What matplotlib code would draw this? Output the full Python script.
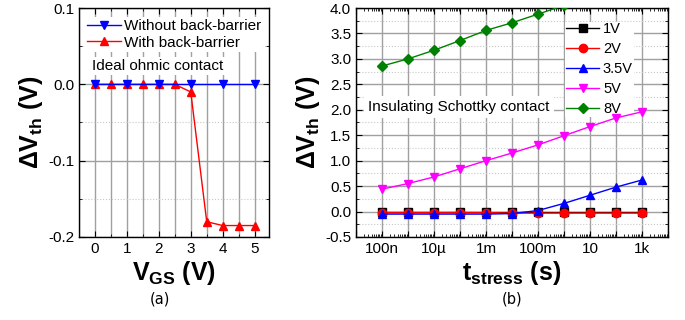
import numpy as np
import matplotlib.pyplot as plt
from matplotlib.ticker import MultipleLocator, FixedLocator, NullFormatter

plt.rcParams['font.family'] = ['Liberation Sans', 'DejaVu Sans']
plt.rcParams['mathtext.fontset'] = 'custom'
plt.rcParams['mathtext.rm'] = 'Liberation Sans'
plt.rcParams['mathtext.bf'] = 'Liberation Sans:bold'
plt.rcParams['mathtext.it'] = 'Liberation Sans:italic'

# (a) threshold shift vs gate bias
vgs = [0, 0.5, 1, 1.5, 2, 2.5, 3, 3.5, 4, 4.5, 5]
vgs_no_bb = [0, 1, 2, 3, 4, 5]
dvth_no_bb = [0, 0, 0, 0, 0, 0]
dvth_bb = [0, 0, 0, 0, 0, 0, -0.01, -0.18, -0.185, -0.185, -0.185]

# (b) threshold shift vs stress time
t_stress = [1e-7, 1e-6, 1e-5, 1e-4, 1e-3, 1e-2, 1e-1, 1e0, 1e1, 1e2, 1e3]
stress_labels = ['1V', '2V', '3.5V', '5V', '8V']
dvth_1v = [-0.01, -0.01, -0.01, -0.01, -0.01, -0.01, -0.01, -0.01, -0.01, -0.01, -0.01]
dvth_2v = [-0.02, -0.02, -0.02, -0.02, -0.02, -0.03, -0.03, -0.03, -0.03, -0.03, -0.03]
dvth_35v = [-0.05, -0.05, -0.05, -0.05, -0.05, -0.04, 0.02, 0.16, 0.32, 0.48, 0.62]
dvth_5v = [0.44, 0.55, 0.68, 0.84, 1.0, 1.15, 1.31, 1.49, 1.67, 1.84, 1.96]
dvth_8v = [2.86, 3.0, 3.17, 3.36, 3.56, 3.71, 3.88, 4.05, 4.2, 4.35, 4.5]

fig = plt.figure(figsize=(6.85, 3.2), dpi=100)
ax1 = fig.add_axes([0.1153, 0.2594, 0.2774, 0.7156])
ax2 = fig.add_axes([0.5197, 0.2594, 0.4555, 0.7156])

def style(ax):
    ax.tick_params(which='both', direction='in', top=True, right=True, labelsize=11)
    ax.tick_params(which='major', length=4)
    ax.tick_params(which='minor', length=2)
    ax.grid(which='major', color='#a0a0a0', lw=1.0)
    ax.grid(which='minor', axis='y', color='#c8c8c8', lw=0.8, ls=':')
    ax.set_axisbelow(True)
    for s in ax.spines.values():
        s.set_linewidth(1.0)

# left panel
ax1.plot(vgs, dvth_bb, '-^', color='red', ms=6, lw=1, label='With back-barrier', zorder=3)
ax1.plot(vgs_no_bb, dvth_no_bb, '-v', color='blue', ms=6, lw=1, label='Without back-barrier', zorder=3)
ax1.set_xlim(-0.5, 5.45)
ax1.set_ylim(-0.2, 0.1)
ax1.xaxis.set_major_locator(MultipleLocator(1))
ax1.xaxis.set_minor_locator(MultipleLocator(0.5))
ax1.yaxis.set_major_locator(MultipleLocator(0.1))
ax1.yaxis.set_minor_locator(MultipleLocator(0.05))
ax1.yaxis.set_major_formatter(lambda v, p: f'{v:.1f}'.replace('-0.0', '0.0'))
style(ax1)
ax1.grid(which='minor', axis='x', color='#a0a0a0', lw=1.0)
ax1.set_xlabel(r'$\mathbf{V_{GS}}$ $\mathbf{(V)}$', fontsize=18, labelpad=2)
ax1.set_ylabel(r'$\mathbf{\Delta V_{th}}$ $\mathbf{(V)}$', fontsize=18, labelpad=2)
h, l = ax1.get_legend_handles_labels()
ax1.legend(h[::-1], l[::-1], loc='upper left', bbox_to_anchor=(0.03, 0.96), fontsize=11,
           frameon=True, fancybox=False, edgecolor='none', framealpha=1, handlelength=2.2,
           borderaxespad=0, borderpad=0.15, labelspacing=0.15, handletextpad=0.2)
ax1.text(0.07, 0.747, 'Ideal ohmic contact', transform=ax1.transAxes, fontsize=11,
         va='center', bbox=dict(facecolor='white', edgecolor='none', pad=1.5))

# right panel
series = [dvth_1v, dvth_2v, dvth_35v, dvth_5v, dvth_8v]
colors = ['black', 'red', 'blue', 'magenta', 'green']
markers = ['s', 'o', '^', 'v', 'D']
for y, c, m, lab in zip(series, colors, markers, stress_labels):
    ax2.plot(t_stress, y, '-', marker=m, color=c, ms=6 if m != 'D' else 5.5, lw=1, label=lab, zorder=3)
ax2.set_xscale('log')
ax2.set_xlim(1e-8, 1e4)
ax2.set_ylim(-0.5, 4.0)
ax2.xaxis.set_major_locator(FixedLocator([10.0 ** k for k in range(-8, 5)]))
ax2.xaxis.set_minor_locator(FixedLocator([m * 10.0 ** k for k in range(-8, 4) for m in range(2, 10)]))
ax2.xaxis.set_minor_formatter(NullFormatter())
tick_names = {-7: '100n', -5: '10µ', -3: '1m', -1: '100m', 1: '10', 3: '1k'}
ax2.xaxis.set_major_formatter(lambda v, p: tick_names.get(int(round(np.log10(v))), ''))
ax2.yaxis.set_major_locator(MultipleLocator(0.5))
ax2.yaxis.set_minor_locator(MultipleLocator(0.25))
ax2.yaxis.set_major_formatter(lambda v, p: f'{v:.1f}')
style(ax2)
ax2.set_xlabel(r'$\mathbf{t_{stress}}$ $\mathbf{(s)}$', fontsize=18, labelpad=2)
ax2.set_ylabel(r'$\mathbf{\Delta V_{th}}$ $\mathbf{(V)}$', fontsize=18, labelpad=2)
leg2 = ax2.legend(loc='upper left', bbox_to_anchor=(0.67, 0.94), fontsize=10.5, frameon=True,
                  fancybox=False, edgecolor='none', framealpha=1, handlelength=2.3,
                  borderaxespad=0, borderpad=0.05, labelspacing=0.4, handletextpad=0.25)
leg2.set_zorder(2)
ax2.text(0.04, 0.568, 'Insulating Schottky contact', transform=ax2.transAxes, fontsize=11,
         va='center', bbox=dict(facecolor='white', edgecolor='none', pad=3))

fig.text(0.2336, 0.05, '(a)', fontsize=10.5, ha='center', family='DejaVu Sans')
fig.text(0.7475, 0.05, '(b)', fontsize=10.5, ha='center', family='DejaVu Sans')

fig.savefig('out.png', dpi=100)
